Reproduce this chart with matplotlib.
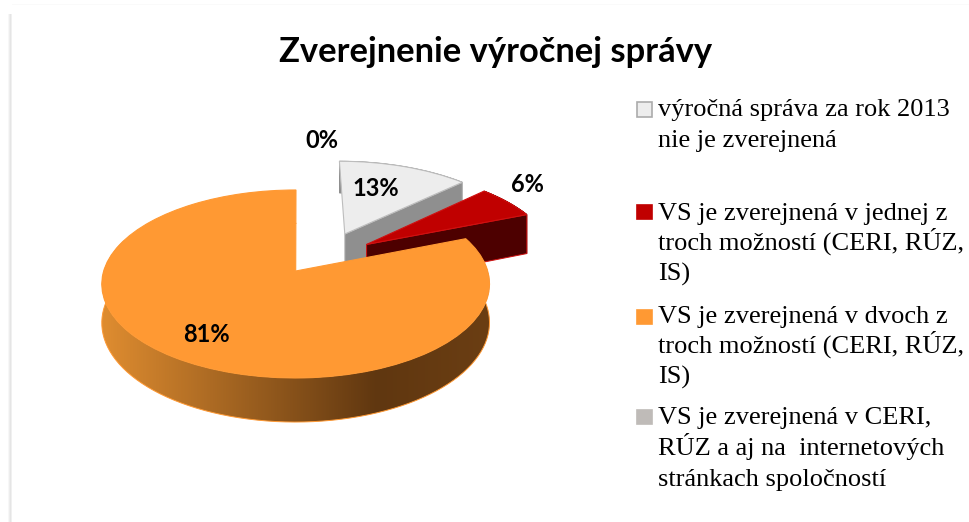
import numpy as np
import matplotlib
matplotlib.use("Agg")
import matplotlib.pyplot as plt
from matplotlib.transforms import Transform
from matplotlib.collections import PolyCollection
from matplotlib.patches import Rectangle, Polygon
from matplotlib.colors import to_rgb

# ---- data ----
title = "Zverejnenie výročnej správy"
values = [13, 6, 81, 0]
pct_labels = ["13%", "6%", "81%", "0%"]
legend_labels = [
    "výročná správa za rok 2013\nnie je zverejnená",
    "VS je zverejnená v jednej z\ntroch možností (CERI, RÚZ,\nIS)",
    "VS je zverejnená v dvoch z\ntroch možností (CERI, RÚZ,\nIS)",
    "VS je zverejnená v CERI,\nRÚZ a aj na  internetových\nstránkach spoločností",
]

# ---- styles / layout ----
top_colors = ["#EDEDED", "#C00000", "#FF9933", "#BFBBB8"]
edge_colors = ["#BDBDBD", "#D01010", "#FF9933", "#BFBBB8"]
cut_colors = ["#8F8F8F", "#4D0000", "#7A4A14", "#8F8F8F"]
legend_marker_edges = ["#ABABAB", "#C00000", "#FF9933", "#BFBBB8"]
slice_centers = [(0.258, 0.4247), (0.372, 0.30), (-0.012, 0.0), (0.0, 0.0)]
slice_depth = [1.0, 1.12, 1.0, 1.0]
label_xy = [(376, 188), (527, 185), (206, 335), (322, 141)]
legend_base = [(116, 147), (220, 250, 281), (323, 353, 384), (424, 455, 486)]
marker_y = [109, 211.5, 316.5, 416.5]

X0, Y0, A, B, K, H = 298.0, 271.0, 192.0, 92.2, 0.138, 38.0


def project(u, v, z=0.0):
    w = 1 + K * np.asarray(v)
    return X0 + A * np.asarray(u) / w, Y0 - (B * np.asarray(v) + H * z) / w


class Proj(Transform):
    input_dims = output_dims = 2
    is_separable = False
    has_inverse = False

    def transform_non_affine(self, values):
        values = np.asarray(values, dtype=float)
        x, y = project(values[:, 0], values[:, 1])
        return np.column_stack([x, y])


def side_color(x):
    stops_x = [104, 377, 490]
    stops = np.array([to_rgb("#DE8C30"), to_rgb("#603710"), to_rgb("#6B3E13")])
    return np.stack([np.interp(x, stops_x, stops[:, i]) for i in range(3)], axis=-1)


plt.rcParams["font.family"] = ["Lato", "DejaVu Sans"]
fig = plt.figure(figsize=(9.69, 5.22), dpi=100, facecolor="white")
ax = fig.add_axes([0, 0, 1, 1])

wedges, _ = ax.pie(values, colors=top_colors, startangle=90, counterclock=False,
                   radius=1.0, wedgeprops=dict(linewidth=0.8))

for i, (wedge, center) in enumerate(zip(wedges, slice_centers)):
    base = 2 + i if i < 3 else 2
    wedge.set_center(center)
    wedge.set_edgecolor(edge_colors[i])
    wedge.set_zorder(base + 0.5)
    if values[i] == 0:
        wedge.set_linewidth(0)
        continue
    d = slice_depth[i]
    cu, cv = center
    th = np.radians(np.linspace(wedge.theta1, wedge.theta2, 241))
    us, vs = cu + np.cos(th), cv + np.sin(th)
    xt, yt = project(us, vs, 0.0)
    xb, yb = project(us, vs, -d)
    if i == 2:
        # outer wall with a smooth horizontal gradient
        wall = Polygon(np.vstack([np.column_stack([xt, yt]),
                                  np.column_stack([xb, yb])[::-1]]),
                       closed=True, transform=None, facecolor="none", edgecolor="none")
        ax.add_patch(wall)
        grad_x = np.linspace(95, 500, 406)
        img = ax.imshow(side_color(grad_x)[np.newaxis, :, :], extent=(95, 500, 440, 240),
                        aspect="auto", interpolation="bilinear", zorder=base)
        ax.plot(xb, yb, color="#FF9933", lw=0.7, zorder=base + 0.1)
        orange_wall = (wall, img)
    else:
        quads = [[(xt[j], yt[j]), (xt[j + 1], yt[j + 1]), (xb[j + 1], yb[j + 1]), (xb[j], yb[j])]
                 for j in range(len(th) - 1)]
        ax.add_collection(PolyCollection(quads, facecolors=cut_colors[i], edgecolors=cut_colors[i],
                                         linewidths=0.5, zorder=base))
        # cut face along the clockwise edge of the slice
        e = np.radians(wedge.theta1)
        eu, ev = cu + np.cos(e), cv + np.sin(e)
        x1, y1 = project(cu, cv, 0.0)
        x2, y2 = project(eu, ev, 0.0)
        x3, y3 = project(eu, ev, -d)
        x4, y4 = project(cu, cv, -d)
        ax.add_patch(Polygon([(x1, y1), (x2, y2), (x3, y3), (x4, y4)], closed=True,
                             facecolor=cut_colors[i], edgecolor=edge_colors[i],
                             linewidth=0.7, zorder=base + 0.2))

ax.set_aspect("auto")
ax.set_xlim(0, 969)
ax.set_ylim(522, 0)
ax.axis("off")
tr = Proj() + ax.transData
for wedge in wedges:
    wedge.set_transform(tr)
wall, img = orange_wall
wall.set_transform(ax.transData)
img.set_clip_path(wall)

# labels
for txt, (x, y) in zip(pct_labels, label_xy):
    ax.text(x, y, txt, ha="center", va="center", fontsize=17, fontweight="bold",
            color="black", zorder=10)

ax.text(496, 52, title, ha="center", va="center", fontsize=24.8, fontweight="bold",
        color="black", zorder=10)

# legend
for label, ys, my, col, mec in zip(legend_labels, legend_base, marker_y, top_colors, legend_marker_edges):
    ax.add_patch(Rectangle((637.5, my - 7), 15, 14.5, facecolor=col, edgecolor=mec, lw=1.2, zorder=10))
    for line, y in zip(label.split("\n"), ys):
        ax.text(658, y, line, ha="left", va="baseline", fontsize=19,
                family="Liberation Serif", color="black", zorder=10)

# faint page shadow
for x, a in zip([8, 9, 10, 11], [0.03, 0.07, 0.10, 0.06]):
    ax.add_patch(Rectangle((x, 14), 1, 508, facecolor="black", alpha=a, lw=0, zorder=0))
ax.add_patch(Rectangle((12, 4), 957, 1, facecolor="black", alpha=0.02, lw=0, zorder=0))

fig.savefig("out.png", dpi=100, facecolor="white")
